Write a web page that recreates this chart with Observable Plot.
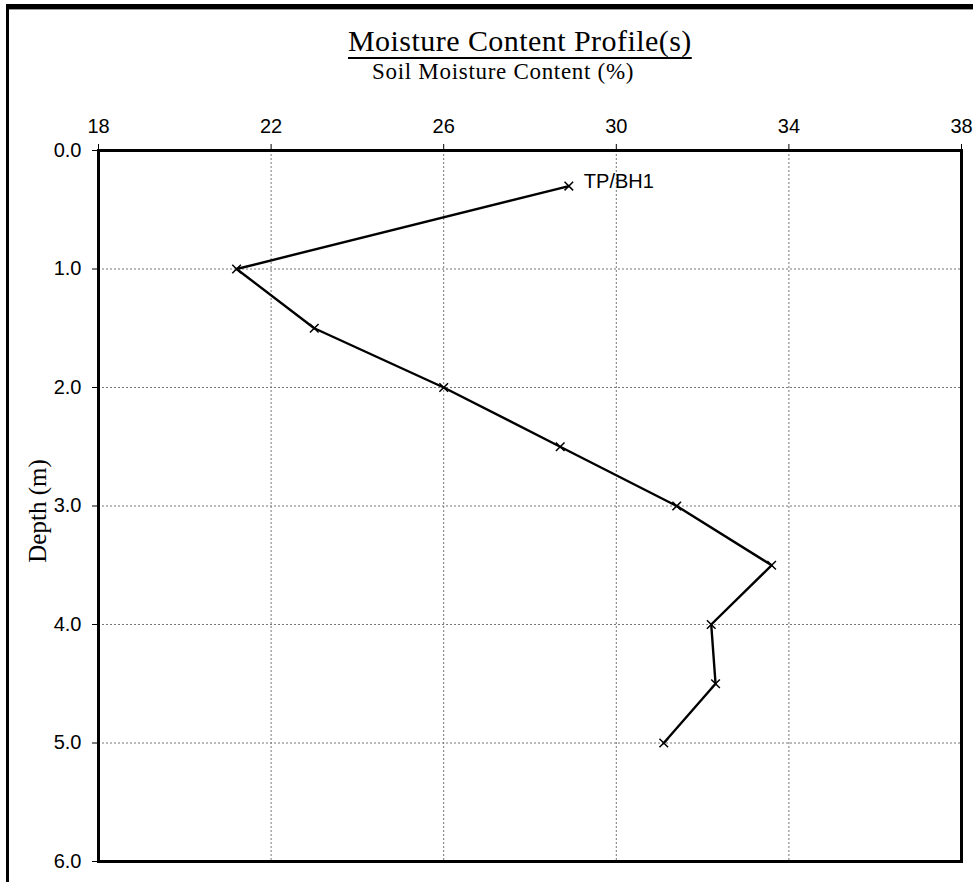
<!DOCTYPE html>
<html>
<head>
<meta charset="utf-8">
<script src="https://cdn.jsdelivr.net/npm/d3@7"></script>
<script src="https://cdn.jsdelivr.net/npm/@observablehq/plot@0.6"></script>
<style>
  html, body { margin: 0; padding: 0; background: #fff; overflow: hidden; }
  #page { position: relative; width: 973px; height: 882px; overflow: hidden; background: #fff; }
  #border { position: absolute; left: 6px; top: 4px; width: 980px; height: 900px;
            border-top: 5px solid #000; border-left: 3px solid #000; pointer-events: none; z-index: 2; }
  #borderShade { position: absolute; left: 9px; top: 9px; width: 970px; height: 1px; background: #999; z-index: 2; }
  #header { position: relative; height: 100px; }
  #title { position: absolute; left: 348px; top: 26px; font-family: "Liberation Serif", "Times New Roman", serif;
           font-size: 30px; line-height: 30px; letter-spacing: 0.45px; white-space: nowrap; text-decoration: underline;
           text-decoration-thickness: 2px; text-underline-offset: 6px; color: #000; }
  #subtitle { position: absolute; left: 372px; top: 60px; font-family: "Liberation Serif", "Times New Roman", serif;
              font-size: 23px; line-height: 23px; letter-spacing: 0.7px; white-space: nowrap; color: #000; }
  #chart svg { display: block; }
</style>
</head>
<body>
<div id="page">
  <div id="border"></div>
  <div id="borderShade"></div>
  <div id="header">
    <div id="title">Moisture Content Profile(s)</div>
    <div id="subtitle">Soil Moisture Content (%)</div>
  </div>
  <div id="chart"></div>
</div>
<script>
// ---- data ----
const seriesName = "TP/BH1";
const depths = [0.3, 1.0, 1.5, 2.0, 2.5, 3.0, 3.5, 4.0, 4.5, 5.0];
const moisture = [28.9, 21.2, 23.0, 26.0, 28.7, 31.4, 33.6, 32.2, 32.3, 31.1];
const xTicks = [18, 22, 26, 30, 34, 38];
const yTicks = [0, 1, 2, 3, 4, 5, 6];
const xGrid = [22, 26, 30, 34];
const yGrid = [1, 2, 3, 4, 5];
const yLabel = "Depth (m)";

const rows = depths.map((d, i) => ({depth: d, mc: moisture[i]}));

const chart = Plot.plot({
  width: 973,
  height: 782,
  marginTop: 50,
  marginLeft: 98,
  marginRight: 12,
  marginBottom: 21,
  style: {fontFamily: "'Liberation Sans', Arial, sans-serif", fontSize: "20px", color: "#000", background: "#fff"},
  x: {domain: [18, 38], axis: null},
  y: {domain: [0, 6], reverse: true, axis: null},
  marks: [
    Plot.gridX(xGrid, {stroke: "#777", strokeOpacity: 1, strokeWidth: 1, strokeDasharray: "2,2"}),
    Plot.gridY(yGrid, {stroke: "#777", strokeOpacity: 1, strokeWidth: 1, strokeDasharray: "2,2"}),
    Plot.axisX(xTicks, {anchor: "top", tickSize: 7, tickPadding: 11, tickFormat: d3.format("d"), fontSize: 20, label: null, stroke: "#000"}),
    Plot.axisY(yTicks, {anchor: "left", tickSize: 6, tickPadding: 11, tickFormat: d3.format(".1f"), fontSize: 20, label: null, stroke: "#000"}),
    Plot.text([yLabel], {frameAnchor: "left", text: d => d, rotate: -90, textAnchor: "middle", dx: -61, dy: 5,
      fontFamily: "'Liberation Serif', 'Times New Roman', serif", fontSize: 25, fill: "#000"}),
    Plot.frame({stroke: "#000", strokeWidth: 3}),
    Plot.line(rows, {x: "mc", y: "depth", stroke: "#000", strokeWidth: 2.4}),
    Plot.dot(rows, {x: "mc", y: "depth", symbol: "times", r: 4, stroke: "#000", strokeWidth: 1.5}),
    Plot.text(rows.slice(0, 1), {x: "mc", y: "depth", text: () => seriesName, dx: 15, dy: -4,
      textAnchor: "start", fontSize: 20, fill: "#000"})
  ]
});
document.getElementById("chart").appendChild(chart);
</script>
</body>
</html>
